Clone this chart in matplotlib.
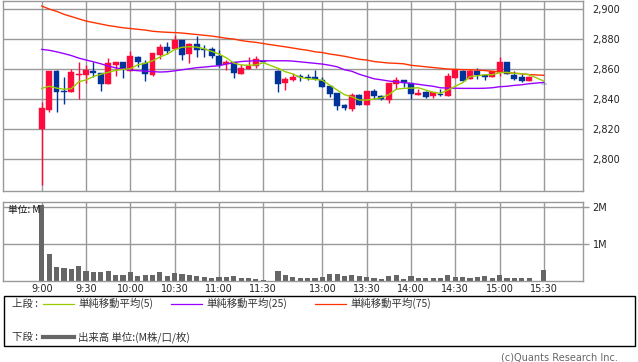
import matplotlib
matplotlib.use("Agg")
import matplotlib.pyplot as plt
from matplotlib.lines import Line2D
from matplotlib.patches import Rectangle

# ---------------- data ----------------
times = ["9:00","9:05","9:10","9:15","9:20","9:25","9:30","9:35","9:40","9:45","9:50","9:55",
         "10:00","10:05","10:10","10:15","10:20","10:25","10:30","10:35","10:40","10:45","10:50","10:55",
         "11:00","11:05","11:10","11:15","11:20","11:25","11:30",
         "12:30","12:35","12:40","12:45","12:50","12:55",
         "13:00","13:05","13:10","13:15","13:20","13:25","13:30","13:35","13:40","13:45","13:50","13:55",
         "14:00","14:05","14:10","14:15","14:20","14:25","14:30","14:35","14:40","14:45","14:50","14:55",
         "15:00","15:05","15:10","15:15","15:20","15:30"]
opens  = [2819.8,2832.9,2858.7,2845.3,2844.9,2856.0,2856.2,2858.7,2857.5,2850.2,2862.7,2864.7,
          2858.7,2868.0,2864.2,2856.0,2869.5,2874.7,2873.5,2879.3,2870.2,2876.7,2873.3,2873.1,
          2868.7,2863.1,2864.5,2856.9,2860.2,2861.8,2865.3,
          2858.9,2850.9,2852.7,2855.3,2854.6,2854.9,
          2852.9,2848.7,2844.0,2836.0,2833.3,2842.7,2836.2,2845.5,2842.3,2839.5,2850.0,2852.7,
          2850.5,2842.9,2844.8,2842.2,2843.1,2842.2,2854.2,2858.9,2853.1,2858.5,2855.8,2854.5,
          2858.2,2864.9,2856.2,2854.7,2852.0,2849.8]
highs  = [2838.2,2858.7,2859.3,2854.7,2859.8,2864.9,2862.5,2864.7,2857.5,2867.1,2864.7,2864.7,
          2872.0,2868.9,2866.0,2870.7,2876.9,2877.8,2882.9,2879.3,2877.5,2882.0,2875.8,2874.5,
          2872.7,2866.0,2864.5,2863.1,2867.8,2868.7,2865.3,
          2859.5,2854.7,2857.1,2856.9,2856.9,2859.5,
          2854.5,2848.7,2844.0,2836.7,2843.8,2843.3,2845.5,2846.7,2842.9,2850.7,2854.9,2852.7,
          2850.5,2846.5,2845.6,2844.8,2846.5,2857.1,2860.2,2859.3,2859.8,2860.5,2856.7,2858.7,
          2868.2,2864.9,2858.7,2856.7,2855.5,2849.8]
lows   = [2782.7,2831.5,2831.5,2836.9,2844.9,2840.0,2850.5,2854.5,2845.5,2850.2,2855.5,2854.2,
          2858.7,2861.5,2852.2,2855.3,2866.5,2870.0,2873.5,2866.0,2864.0,2868.2,2868.2,2867.5,
          2861.5,2859.3,2854.0,2856.9,2859.8,2860.9,2864.7,
          2844.9,2846.0,2852.0,2852.0,2852.7,2852.7,
          2848.2,2841.5,2832.9,2832.9,2832.2,2836.2,2836.2,2840.0,2839.3,2837.5,2846.7,2847.8,
          2840.2,2842.9,2840.9,2840.9,2841.8,2842.2,2854.2,2852.2,2853.1,2853.5,2852.9,2854.5,
          2855.5,2856.5,2852.5,2851.5,2852.0,2849.8]
closes = [2834.2,2858.7,2844.9,2844.6,2858.0,2856.5,2859.5,2857.5,2850.2,2864.0,2864.7,2859.8,
          2868.7,2864.5,2856.9,2870.7,2874.7,2872.2,2879.3,2869.5,2876.7,2872.7,2872.9,2868.9,
          2862.5,2864.9,2857.5,2860.5,2862.2,2866.5,2864.7,
          2850.2,2853.1,2854.7,2854.9,2854.3,2853.5,
          2848.2,2843.5,2835.5,2834.2,2842.5,2836.2,2845.5,2842.2,2840.2,2850.7,2852.5,2850.5,
          2843.5,2844.2,2841.5,2844.6,2842.9,2855.1,2859.3,2852.2,2858.5,2856.0,2854.5,2858.7,
          2864.9,2856.5,2853.5,2852.2,2854.7,2849.8]
ma5  = [2847.1,2848.5,2847.3,2846.5,2846.9,2851.5,2852.7,2855.0,2856.5,2857.8,2859.1,2859.8,
        2860.2,2862.8,2863.8,2865.5,2868.0,2870.0,2873.0,2874.5,2874.9,2874.6,2873.5,2871.8,
        2870.0,2867.5,2864.0,2862.7,2862.5,2862.7,2864.2,
        2860.5,2858.2,2856.7,2854.5,2853.5,2853.1,
        2852.5,2849.3,2846.0,2842.9,2841.5,2839.3,2839.3,2840.0,2840.9,2842.9,2846.5,2847.1,
        2847.3,2847.5,2846.0,2844.5,2843.8,2846.0,2848.5,2850.9,2854.9,2855.5,2856.2,2856.2,
        2857.5,2857.8,2857.1,2856.9,2856.2,2852.0]
ma25 = [2873.1,2872.5,2871.5,2870.3,2869.0,2867.3,2866.0,2864.8,2863.5,2862.0,2860.8,2860.0,
        2859.3,2858.9,2858.6,2858.3,2858.0,2858.2,2858.8,2859.5,2860.2,2860.9,2861.3,2861.8,
        2862.2,2863.3,2864.3,2865.0,2865.3,2865.5,2865.5,
        2865.5,2865.5,2865.3,2864.8,2864.3,2863.8,
        2863.3,2862.5,2861.5,2859.5,2858.5,2856.5,2855.0,2853.5,2852.8,2852.0,2851.5,2851.0,
        2850.4,2849.8,2849.1,2848.5,2847.5,2847.3,2847.2,2847.1,2847.1,2847.1,2847.2,2847.5,
        2848.2,2848.5,2849.1,2849.5,2850.2,2851.1]
ma75 = [2902.0,2900.0,2898.5,2896.5,2895.0,2893.5,2892.0,2891.0,2890.0,2889.0,2888.3,2887.5,
        2887.0,2886.5,2886.0,2885.2,2884.8,2884.5,2884.3,2884.0,2883.5,2883.0,2882.5,2882.0,
        2881.3,2880.5,2880.0,2879.0,2878.3,2877.8,2877.0,
        2875.5,2874.8,2874.0,2873.2,2872.5,2871.5,
        2871.0,2870.0,2869.3,2868.5,2867.5,2866.5,2866.0,2865.0,2864.5,2864.0,2863.8,2863.5,
        2862.5,2862.0,2861.5,2861.0,2860.5,2860.0,2859.8,2859.6,2859.5,2859.3,2859.0,2858.5,
        2858.0,2857.5,2857.2,2856.8,2856.3,2855.8]
volume = [2.03,0.72,0.36,0.34,0.31,0.39,0.26,0.24,0.24,0.26,0.15,0.15,
          0.24,0.12,0.15,0.15,0.24,0.12,0.21,0.18,0.15,0.12,0.09,0.07,
          0.09,0.09,0.12,0.07,0.07,0.04,0.01,
          0.26,0.15,0.09,0.07,0.07,0.07,
          0.09,0.18,0.18,0.12,0.15,0.12,0.09,0.07,0.04,0.12,0.15,0.04,
          0.12,0.07,0.07,0.07,0.07,0.15,0.09,0.09,0.07,0.09,0.12,0.07,
          0.15,0.07,0.07,0.07,0.07,0.28]
tick_times = ["9:00","9:30","10:00","10:30","11:00","11:30","13:00","13:30","14:00","14:30","15:00","15:30"]
price_ticks = [2800, 2820, 2840, 2860, 2880, 2900]
price_labels = ["2,800", "2,820", "2,840", "2,860", "2,880", "2,900"]
vol_ticks = [1, 2]
vol_labels = ["1M", "2M"]

# ---------------- x scale (5-minute slots, lunch break compressed) ----------------
def slot(t):
    h, m = t.split(":")
    mins = int(h) * 60 + int(m)
    if mins <= 690:
        return (mins - 540) / 5
    return (mins - 750) / 5 + 32

xs = [slot(t) for t in times]
tick_x = [slot(t) for t in tick_times]

UP = "#ff0a3c"
DOWN = "#003399"
GRID = "#999999"

W, H = 638, 362
def fx(px): return px / W
def fy(py): return 1 - py / H

fig = plt.figure(figsize=(W / 100, H / 100), dpi=100)
fig.patch.set_facecolor("white")

# ---------------- price panel ----------------
ax = fig.add_axes([fx(3), fy(190.5), 580 / W, 190 / H])
ax.set_xlim(-5.25, 73.3)
ax.set_ylim(2779, 2905.7)
for y in price_ticks:
    ax.axhline(y, color=GRID, lw=1.0, zorder=0)
for x in tick_x:
    ax.axvline(x, color=GRID, lw=1.0, zorder=0)

for x, o, h, l, c in zip(xs, opens, highs, lows, closes):
    col = UP if c > o else DOWN
    ax.vlines(x, l, h, color=col, lw=1.0, zorder=2)
    ax.bar(x, max(abs(c - o), 0.35), bottom=min(o, c), width=0.8,
           color=col, edgecolor=col, lw=0.3, zorder=3)

ax.plot(xs, ma75, color="#ff3300", lw=1.0, zorder=4)
ax.plot(xs, ma25, color="#9900ff", lw=1.0, zorder=4)
ax.plot(xs, ma5, color="#99cc00", lw=1.0, zorder=4)

ax.yaxis.tick_right()
ax.set_yticks(price_ticks)
ax.set_yticklabels(price_labels)
ax.tick_params(axis="y", length=0, pad=7, labelsize=7, labelcolor="#222222")
ax.set_xticks([])
for s in ax.spines.values():
    s.set_color(GRID)
    s.set_linewidth(1.0)

# ---------------- volume panel ----------------
av = fig.add_axes([fx(3), fy(280.5), 580 / W, 78.8 / H])
av.set_xlim(-5.25, 73.3)
av.set_ylim(0, 2.13)
for y in vol_ticks:
    av.axhline(y, color=GRID, lw=1.0, zorder=0)
for x in tick_x:
    av.axvline(x, color=GRID, lw=1.0, zorder=0)
av.bar(xs, volume, width=0.7, color="#666666", zorder=2)
av.yaxis.tick_right()
av.set_yticks(vol_ticks)
av.set_yticklabels(vol_labels)
av.tick_params(axis="y", length=4, width=1, color=GRID, pad=3, labelsize=7, labelcolor="#222222")
av.set_xticks(tick_x)
av.set_xticklabels(tick_times)
av.tick_params(axis="x", length=0, pad=2.5, labelsize=7, labelcolor="#222222")
for s in av.spines.values():
    s.set_color(GRID)
    s.set_linewidth(1.0)
av.text(0.008, 0.9, "単位: M", transform=av.transAxes, fontsize=7, va="center", ha="left",
        family=["Noto Sans CJK JP", "DejaVu Sans"], color="#111111", zorder=5)

# ---------------- legend box ----------------
jp = ["Noto Sans CJK JP", "DejaVu Sans"]
fig.patches.append(Rectangle((fx(3.5), fy(346)), (635 - 3.5) / W, (346 - 295.5) / H,
                             transform=fig.transFigure, fill=False, edgecolor="#000000", lw=1.0))
fig.text(fx(12), fy(303.5), "上段 :", fontsize=7.5, family=jp, va="center", ha="left", color="#333333")
fig.text(fx(12), fy(337), "下段 :", fontsize=7.5, family=jp, va="center", ha="left", color="#333333")
legend_items = [(43, "#99cc00", "単純移動平均(5)"),
                (171, "#9900ff", "単純移動平均(25)"),
                (315, "#ff3300", "単純移動平均(75)")]
for x0, col, lab in legend_items:
    fig.lines.append(Line2D([fx(x0), fx(x0 + 31)], [fy(303.5), fy(303.5)],
                            transform=fig.transFigure, color=col, lw=0.9))
    fig.text(fx(x0 + 35), fy(303.5), lab, fontsize=7.5, family=jp, va="center", ha="left",
             color="#333333")
fig.lines.append(Line2D([fx(43), fx(74)], [fy(337), fy(337)], transform=fig.transFigure,
                        color="#666666", lw=3.0))
fig.text(fx(78), fy(337), "出来高 単位:(M株/口/枚)", fontsize=7.5, family=jp, va="center",
         ha="left", color="#333333")

fig.text(fx(618), fy(357), "(c)Quants Research Inc.", fontsize=7, ha="right", va="center",
         color="#666666")

fig.savefig("out.png", dpi=100)
